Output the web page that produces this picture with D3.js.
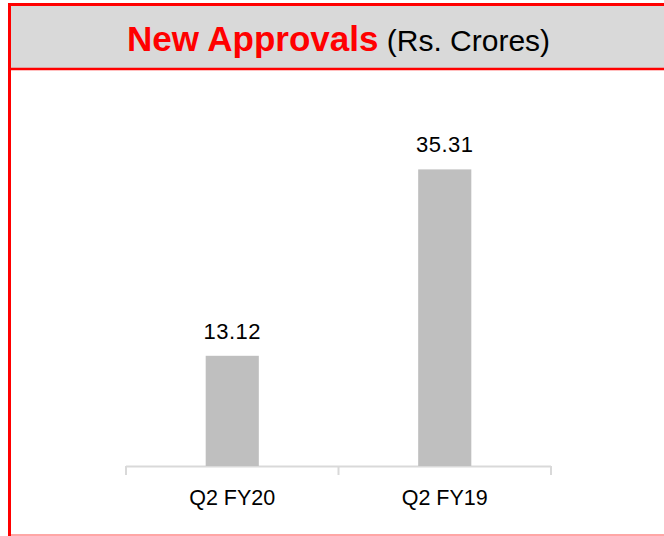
<!DOCTYPE html>
<html>
<head>
<meta charset="utf-8">
<script src="https://cdn.jsdelivr.net/npm/d3@7"></script>
<style>
  html, body { margin: 0; padding: 0; background: #ffffff; }
  svg { display: block; font-family: "Liberation Sans", Arial, sans-serif; }
</style>
</head>
<body>
<script>
const categories = ["Q2 FY20", "Q2 FY19"];
const values = [13.12, 35.31];
const valueLabels = ["13.12", "35.31"];
const titleMain = "New Approvals";
const titleSub = "(Rs. Crores)";

const W = 664, H = 536;
const svg = d3.select("body").append("svg").attr("width", W).attr("height", H);

// header band
svg.append("rect").attr("x", 11).attr("y", 6).attr("width", W - 11).attr("height", 62).attr("fill", "#d9d9d9");
// frame
svg.append("line").attr("x1", 8).attr("x2", W).attr("y1", 4.5).attr("y2", 4.5).attr("stroke", "#ff0000").attr("stroke-width", 3);
svg.append("line").attr("x1", 9.5).attr("x2", 9.5).attr("y1", 3).attr("y2", H).attr("stroke", "#ff0000").attr("stroke-width", 3);
svg.append("line").attr("x1", 11).attr("x2", W).attr("y1", 69).attr("y2", 69).attr("stroke", "#ff0000").attr("stroke-width", 2.5);
svg.append("line").attr("x1", 8).attr("x2", W).attr("y1", 535).attr("y2", 535).attr("stroke", "#ff0000").attr("stroke-opacity", 0.35).attr("stroke-width", 2);

// title
const title = svg.append("text").attr("x", 338.5).attr("y", 51).attr("text-anchor", "middle");
title.append("tspan").text(titleMain).attr("fill", "#ff0000").attr("font-weight", "bold").attr("font-size", 35);
title.append("tspan").text(" " + titleSub).attr("fill", "#000000").attr("font-size", 30);

// scales
const x = d3.scaleBand().domain(categories).range([126, 551]).paddingInner(0).paddingOuter(0);
const y = d3.scaleLinear().domain([0, 40]).range([466, 130]);
const barW = x.bandwidth() * 0.25;

// axis
const axisG = svg.append("g").attr("transform", "translate(0,466)");
axisG.append("line").attr("x1", x.range()[0]).attr("x2", x.range()[1]).attr("y1", 0.5).attr("y2", 0.5).attr("stroke", "#d9d9d9").attr("stroke-width", 2);
const tickXs = [x.range()[0], x(categories[1]), x.range()[1]];
axisG.selectAll("line.tick").data(tickXs).join("line")
  .attr("class", "tick")
  .attr("x1", d => d)
  .attr("x2", d => d)
  .attr("y1", 0).attr("y2", 9)
  .attr("stroke", "#d9d9d9").attr("stroke-width", 2);

axisG.selectAll("text.cat").data(categories).join("text")
  .attr("class", "cat")
  .attr("x", d => x(d) + x.bandwidth() / 2)
  .attr("y", 39)
  .attr("text-anchor", "middle")
  .attr("font-size", 21.5)
  .attr("fill", "#000")
  .text(d => d);

// bars
svg.selectAll("rect.bar").data(values).join("rect")
  .attr("class", "bar")
  .attr("x", (d, i) => x(categories[i]) + (x.bandwidth() - barW) / 2)
  .attr("y", d => y(d))
  .attr("width", barW)
  .attr("height", d => y(0) - y(d))
  .attr("fill", "#bfbfbf");

// value labels
svg.selectAll("text.val").data(values).join("text")
  .attr("class", "val")
  .attr("x", (d, i) => x(categories[i]) + x.bandwidth() / 2)
  .attr("y", d => y(d) - 17)
  .attr("text-anchor", "middle")
  .attr("font-size", 22)
  .attr("letter-spacing", 0.5)
  .attr("fill", "#000")
  .text((d, i) => valueLabels[i]);
</script>
</body>
</html>
